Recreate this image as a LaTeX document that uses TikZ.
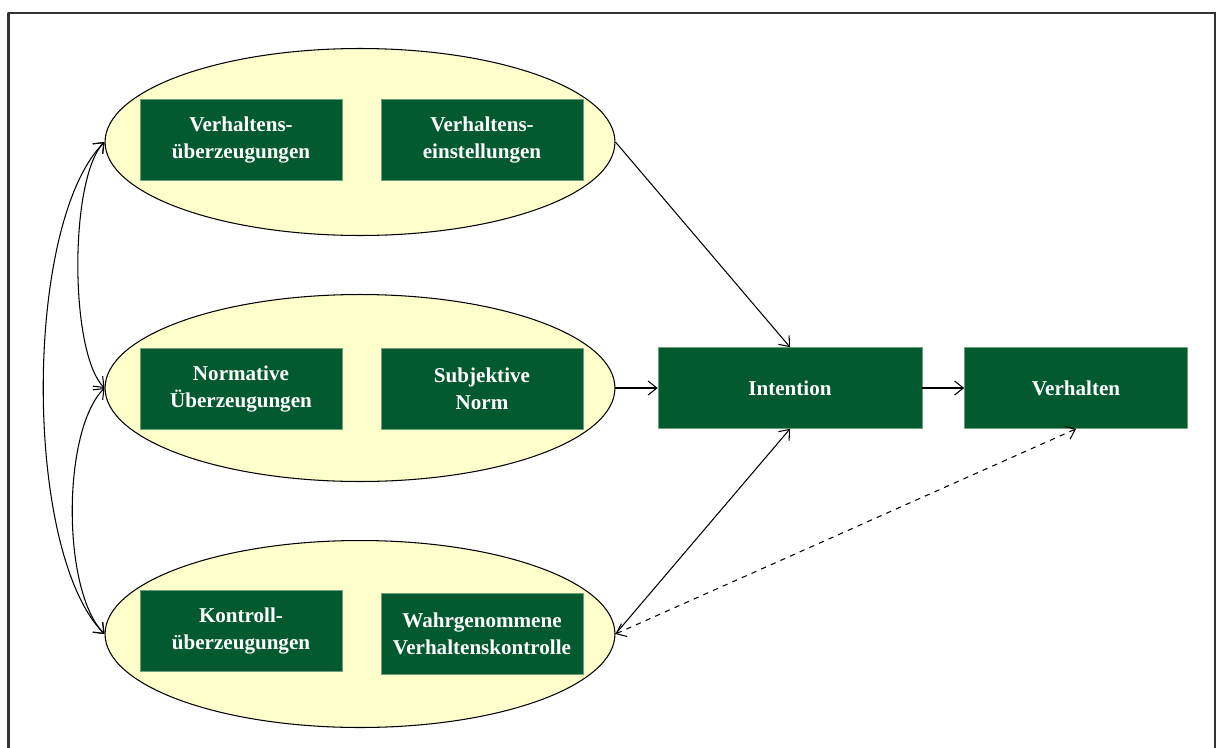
\documentclass[tikz,border=0pt]{standalone}
\usepackage{fontspec}
\setmainfont{Liberation Serif}
\usetikzlibrary{shapes.geometric,arrows.meta}
\definecolor{dgreen}{RGB}{2,90,46}
\definecolor{lgreen}{RGB}{110,160,125}
\definecolor{pale}{RGB}{255,255,204}
\tikzset{
	box/.style={fill=dgreen, draw=lgreen, line width=0.4pt, text=white,
		font=\fontsize{12}{15.6}\selectfont\bfseries,
		align=center, minimum height=1.62cm, inner sep=0pt},
	oval/.style={ellipse, draw=black, fill=pale, minimum width=10.2cm, minimum height=3.74cm}
}
\begin{document}
\begin{tikzpicture}[x=0.02cm, y=0.02cm, line width=0.6pt, line join=round,
	>={Straight Barb[length=5pt,width=8pt]}]
	\useasboundingbox (0,0) rectangle (1216,-747);
	%% Rahmen
	\draw[line width=1.2pt, black!80] (8.5,-760) |- (1215.5,-12.7) -- (1215.5,-760);
	
	%% Ellipsen
	\node[oval] (o1) at (360,-142) {};
	\node[oval] (o2) at (360,-388) {};
	\node[oval] (o3) at (360,-634) {};
	
	%% Kaesten
	\node[box, minimum width=4.04cm] (vue) at (241,-140) {Verhaltens-\\überzeugungen};
	\node[box, minimum width=4.04cm] (vei) at (482,-140) {Verhaltens-\\einstellungen};
	\node[box, minimum width=4.04cm] (nue) at (241,-389) {Normative\\Überzeugungen};
	\node[box, minimum width=4.04cm] (sn) at (482,-389) {Subjektive\\Norm};
	\node[box, minimum width=4.04cm] (kue) at (241,-631) {Kontroll-\\überzeugungen};
	\node[box, minimum width=4.04cm] (wvk) at (482,-634) {Wahrgenommene\\Verhaltenskontrolle};
	\node[box, minimum width=5.28cm] (int) at (790,-388) {Intention};
	\node[box, minimum width=4.46cm] (vh) at (1076,-388) {Verhalten};
	
	%% Pfeile
	\draw[->] (o1.east) -- (int.north);
	\draw[->] (o2.east) -- (int.west);
	\draw[->] (int.east) -- (vh.west);
	\draw[->] (o3.east) -- (int.south);
	\draw[<->, dashed] (o3.east) -- (vh.south);
	
	%% Korrelationen
	\draw[<->] (o1.west) to[out=225, in=135, looseness=0.52] (o2.west);
	\draw[<->] (o2.west) to[out=225, in=135, looseness=0.63] (o3.west);
	\draw[<->] (o1.west) to[out=225, in=135, looseness=0.6] (o3.west);
\end{tikzpicture}
\end{document}
